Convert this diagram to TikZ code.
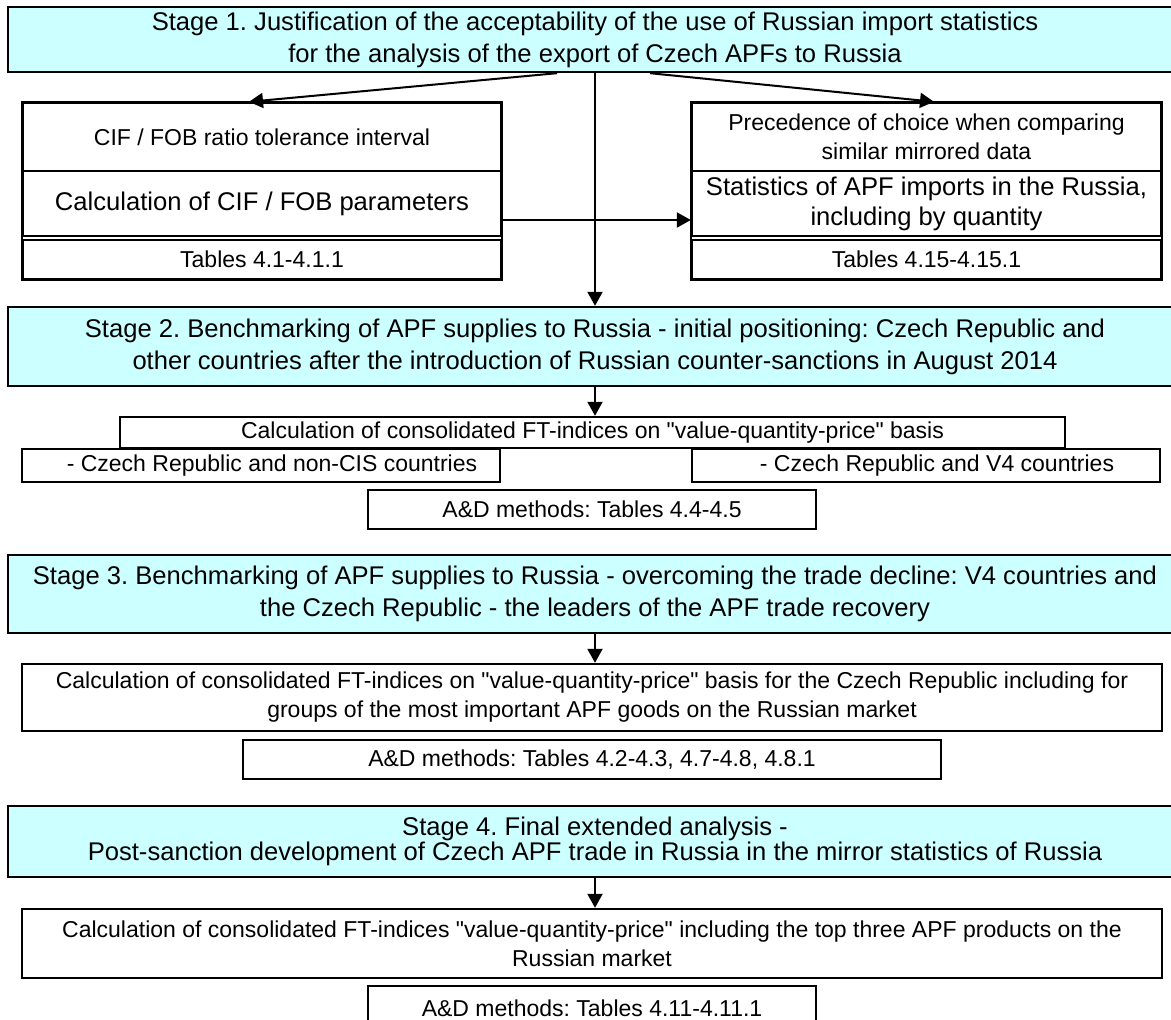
\documentclass[tikz,border=0pt]{standalone}
\usepackage{fontspec}
\setmainfont{Liberation Sans}
\usetikzlibrary{arrows.meta}
\definecolor{stagecyan}{HTML}{CCFFFF}
\frenchspacing

\begin{document}
\begin{tikzpicture}[x=0.5pt,y=-0.5pt,
  stage/.style={draw, line width=1.2pt, fill=stagecyan, align=center, inner sep=0pt, minimum width=587pt, font=\fontsize{12.8}{16}\selectfont},
  box/.style={draw, line width=1.2pt, fill=white, align=center, inner sep=0pt, font=\fontsize{11.5}{14.5}\selectfont},
  bigbox/.style={box, font=\fontsize{12.8}{15}\selectfont},
  arr/.style={line width=1pt, -{Triangle[length=7pt,width=7.5pt]}}]
\useasboundingbox (0,0) rectangle (1171,1020);

% stage 1 and the two side stacks
\node[stage, minimum height=32.5pt] (s1) at (595,39.5) {Stage 1. Justification of the acceptability of the use of Russian import statistics\\for the analysis of the export of Czech APFs to Russia};
\node[box, minimum width=239pt, minimum height=34pt] (tol) at (262,137) {CIF / FOB ratio tolerance interval};
\node[bigbox, minimum width=239pt, minimum height=32.5pt] (cifcalc) at (262,203.5) {Calculation of CIF / FOB parameters};
\node[box, minimum width=239pt, minimum height=19.5pt] (tabA) at (262,259.5) {Tables 4.1-4.1.1};
\draw[line width=1.2pt] (tol.north west) rectangle (tabA.south east);
\node[box, minimum width=234.5pt, minimum height=34pt] (prec) at (926.5,137) {Precedence of choice when comparing\\similar mirrored data};
\node[bigbox, minimum width=234.5pt, minimum height=32.5pt] (stat) at (926.5,203.5) {Statistics of APF imports in the Russia,\\including by quantity};
\node[box, minimum width=234.5pt, minimum height=19.5pt] (tabB) at (926.5,259.5) {Tables 4.15-4.15.1};
\draw[line width=1.2pt] (prec.north west) rectangle (tabB.south east);

% stage 2
\node[stage, minimum height=39.5pt] (s2) at (595,346.5) {Stage 2. Benchmarking of APF supplies to Russia - initial positioning: Czech Republic and\\other countries after the introduction of Russian counter-sanctions in August 2014};
\node[box, minimum width=472.5pt, minimum height=15.5pt] (calc2) at (592.5,432.5) {Calculation of consolidated FT-indices on \textquotedbl value-quantity-price\textquotedbl{} basis};
\node[box, minimum width=239pt, minimum height=16.5pt] (subL) at (261,465.5) {\hspace*{11pt}- Czech Republic and non-CIS countries};
\node[box, minimum width=234pt, minimum height=16.5pt] (subR) at (926,465.5) {\hspace*{11pt}- Czech Republic and V4 countries};
\node[box, minimum width=224pt, minimum height=19.5pt] (ad2) at (592,509.5) {A\&D methods: Tables 4.4-4.5};

% stage 3
\node[stage, minimum height=39pt] (s3) at (595,594) {Stage 3. Benchmarking of APF supplies to Russia - overcoming the trade decline: V4 countries and\\the Czech Republic - the leaders of the APF trade recovery};
\node[box, minimum width=570pt, minimum height=33.5pt] (calc3) at (592,697.5) {Calculation of consolidated FT-indices on \textquotedbl value-quantity-price\textquotedbl{} basis for the Czech Republic including for\\groups of the most important APF goods on the Russian market};
\node[box, minimum width=349pt, minimum height=19.5pt] (ad3) at (592,759.5) {A\&D methods: Tables 4.2-4.3, 4.7-4.8, 4.8.1};

% stage 4
\node[stage, minimum height=35.5pt, font=\fontsize{12.8}{12.8}\selectfont] (s4) at (595,841.5) {Stage 4. Final extended analysis -\\Post-sanction development of Czech APF trade in Russia in the mirror statistics of Russia};
\node[box, minimum width=570pt, minimum height=34.5pt] (calc4) at (592,943.5) {Calculation of consolidated FT-indices \textquotedbl value-quantity-price\textquotedbl{} including the top three APF products on the\\Russian market};
\node[box, minimum width=224pt, minimum height=22pt] (ad4) at (592,1008) {A\&D methods: Tables 4.11-4.11.1};

% connectors
\draw[arr] ([xshift=-19pt]s1.south) -- ([xshift=-6.5pt]tol.north);
\draw[arr] ([xshift=27.5pt]s1.south) -- ([xshift=3.75pt]prec.north);
\draw[arr] (s1) -- (s2);
\draw[arr] ([yshift=-8.25pt]cifcalc.east) -- ([yshift=-8.25pt]stat.west);
\draw[arr] (s2.south) -- (s2.south |- calc2.north);
\draw[arr] (s3.south) -- (s3.south |- calc3.north);
\draw[arr] (s4.south) -- (s4.south |- calc4.north);
\end{tikzpicture}
\end{document}
